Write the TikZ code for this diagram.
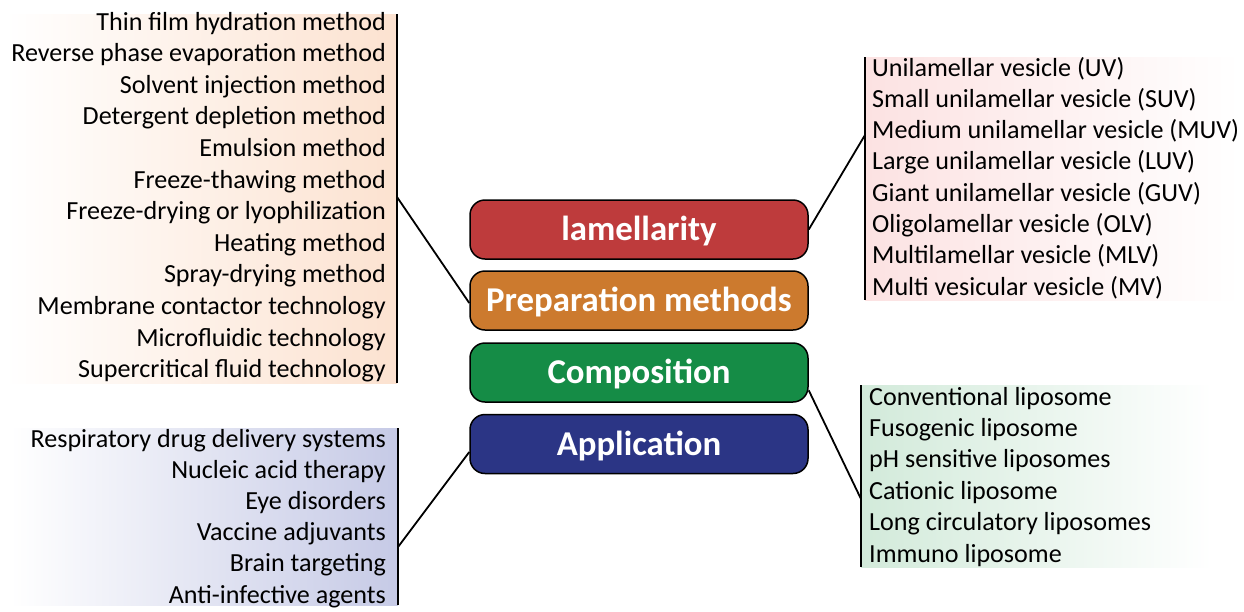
\documentclass[tikz,border=0pt]{standalone}
\usepackage{fontspec}
\setmainfont{Carlito}
\usepackage{xcolor}

\definecolor{lamred}{RGB}{190,59,60}
\definecolor{prepora}{RGB}{204,122,46}
\definecolor{compgrn}{RGB}{21,140,70}
\definecolor{applblu}{RGB}{43,53,133}
\definecolor{prepfill}{RGB}{252,226,208}
\definecolor{lamfill}{RGB}{252,226,226}
\definecolor{compfill}{RGB}{210,234,218}
\definecolor{applfill}{RGB}{198,202,230}

\tikzset{
  catbox/.style={draw=black, line width=1.5pt, rounded corners=15pt, text=white,
    minimum width=338pt, minimum height=59pt, inner sep=0pt,
    text height=22.5pt, text depth=0pt, font=\bfseries\fontsize{34.8}{40}\selectfont},
  itemtxt/.style={inner sep=0pt, font=\fontsize{26.1}{31}\selectfont},
  bar/.style={line width=2pt},
  link/.style={line width=1.8pt}
}

\begin{document}
\begin{tikzpicture}[x=1pt,y=1pt,yscale=-1,xscale=1]
		\useasboundingbox (0,0) rectangle (1244,611);
		
		%Shape: Gradient panels
		\fill [left color=white, right color=prepfill] (5,14) rectangle (397,383);
		\fill [left color=white, right color=applfill] (10,428) rectangle (398,605);
		\fill [left color=lamfill, right color=white] (865,57) rectangle (1240,300);
		\fill [left color=compfill, right color=white] (861,385) rectangle (1212,567);
		
		%Straight Lines: bars
		\draw [bar] (397,14) -- (397,383);
		\draw [bar] (398,428) -- (398,605);
		\draw [bar] (865,57) -- (865,300);
		\draw [bar] (861,385) -- (861,567);
		\coordinate (prepbar) at (397,197);
		\coordinate (applbar) at (398,547);
		\coordinate (lambar) at (865,135);
		\coordinate (compbar) at (861,499);
		
		%Shape: Rounded Rectangles
		\node [catbox, fill=lamred] (lam) at (639,229.5) {lamellarity};
		\node [catbox, fill=prepora] (prep) at (639,300.5) {Preparation methods};
		\node [catbox, fill=compgrn] (comp) at (639,372.5) {Composition};
		\node [catbox, fill=applblu] (appl) at (639,444) {Application};
		
		%Straight Lines: links
		\draw [link] (lam.east) -- (lambar);
		\draw [link] (prep.west) ++(0,2.5) -- (prepbar);
		\draw [link] (comp.-6.6) -- (compbar);
		\draw [link] (appl.west) ++(0,8) -- (applbar);
		
		% Text Node: preparation methods
		\node [itemtxt, anchor=base east] (p1) at (386,30) {Thin film hydration method};
		\node [itemtxt, anchor=base east] (p2) at (386,61.6) {Reverse phase evaporation method};
		\node [itemtxt, anchor=base east] (p3) at (386,93.2) {Solvent injection method};
		\node [itemtxt, anchor=base east] (p4) at (386,124.8) {Detergent depletion method};
		\node [itemtxt, anchor=base east] (p5) at (386,156.4) {Emulsion method};
		\node [itemtxt, anchor=base east] (p6) at (386,188) {Freeze-thawing method};
		\node [itemtxt, anchor=base east] (p7) at (386,219.6) {Freeze-drying or lyophilization};
		\node [itemtxt, anchor=base east] (p8) at (386,251.2) {Heating method};
		\node [itemtxt, anchor=base east] (p9) at (386,282.8) {Spray-drying method};
		\node [itemtxt, anchor=base east] (p10) at (386,314.4) {Membrane contactor technology};
		\node [itemtxt, anchor=base east] (p11) at (386,346) {Microfluidic technology};
		\node [itemtxt, anchor=base east] (p12) at (386,377.6) {Supercritical fluid technology};
		
		% Text Node: applications
		\node [itemtxt, anchor=base east] (a1) at (386,447) {Respiratory drug delivery systems};
		\node [itemtxt, anchor=base east] (a2) at (386,478.2) {Nucleic acid therapy};
		\node [itemtxt, anchor=base east] (a3) at (386,509.4) {Eye disorders};
		\node [itemtxt, anchor=base east] (a4) at (386,540.6) {Vaccine adjuvants};
		\node [itemtxt, anchor=base east] (a5) at (386,571.8) {Brain targeting};
		\node [itemtxt, anchor=base east] (a6) at (386,603) {Anti-infective agents};
		
		% Text Node: lamellarity
		\node [itemtxt, anchor=base west] (l1) at (872,76) {Unilamellar vesicle (UV)};
		\node [itemtxt, anchor=base west] (l2) at (872,107.3) {Small unilamellar vesicle (SUV)};
		\node [itemtxt, anchor=base west] (l3) at (872,138.6) {Medium unilamellar vesicle (MUV)};
		\node [itemtxt, anchor=base west] (l4) at (872,169.9) {Large unilamellar vesicle (LUV)};
		\node [itemtxt, anchor=base west] (l5) at (872,201.2) {Giant unilamellar vesicle (GUV)};
		\node [itemtxt, anchor=base west] (l6) at (872,232.5) {Oligolamellar vesicle (OLV)};
		\node [itemtxt, anchor=base west] (l7) at (872,263.8) {Multilamellar vesicle (MLV)};
		\node [itemtxt, anchor=base west] (l8) at (872,295.1) {Multi vesicular vesicle (MV)};
		
		% Text Node: composition
		\node [itemtxt, anchor=base west] (c1) at (869,405) {Conventional liposome};
		\node [itemtxt, anchor=base west] (c2) at (869,436.4) {Fusogenic liposome};
		\node [itemtxt, anchor=base west] (c3) at (869,467.8) {pH sensitive liposomes};
		\node [itemtxt, anchor=base west] (c4) at (869,499.2) {Cationic liposome};
		\node [itemtxt, anchor=base west] (c5) at (869,530.6) {Long circulatory liposomes};
		\node [itemtxt, anchor=base west] (c6) at (869,562) {Immuno liposome};
	\end{tikzpicture}
\end{document}
